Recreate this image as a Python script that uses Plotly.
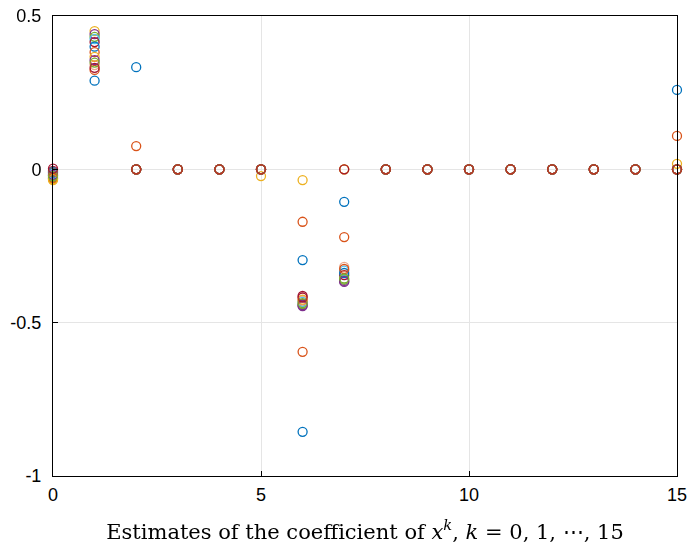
import plotly.graph_objects as go

k = list(range(16))

colors = ["#0072BD", "#D95319", "#EDB120", "#7E2F8E", "#77AC30", "#4DBEEE", "#A2142F",
          "#0072BD", "#D95319", "#EDB120", "#7E2F8E", "#77AC30", "#A2142F", "#D95319"]
opacities = [1, 1, 1, 1, 1, 1, 1, 1, 1, 1, 1, 1, 1, 0.5]

def row(c0, c1, c2=0, c5=0, c6=0, c7=0, c15=0):
    r = [0.0] * 16
    r[0], r[1], r[2], r[5], r[6], r[7], r[15] = c0, c1, c2, c5, c6, c7, c15
    return r

s1 = row(-0.012, 0.289, 0.333, 0, -0.296, -0.106, 0.259)
s2 = row(-0.030, 0.324, 0.076, 0, -0.171, -0.221, 0.109)
s3 = row(-0.035, 0.451, 0, -0.022, -0.035, 0, 0.018)
s4 = row(-0.020, 0.441, 0, 0, -0.446, -0.367, 0)
s5 = row(-0.025, 0.432, 0, 0, -0.440, -0.360, 0)
s6 = row(-0.015, 0.425, 0, 0, -0.432, -0.330, 0)
s7 = row(-0.005, 0.415, 0, 0, -0.413, -0.345, 0)
s8 = row(-0.008, 0.400, 0, 0, -0.856, -0.338, 0)
s9 = row(-0.028, 0.382, 0, 0, -0.595, -0.325, 0)
s10 = row(-0.032, 0.367, 0, 0, -0.425, 0, 0)
s11 = row(-0.018, 0.356, 0, 0, -0.443, -0.364, 0)
s12 = row(-0.022, 0.348, 0, 0, -0.436, -0.356, 0)
s13 = row(0.002, 0.331, 0, 0, -0.418, 0, 0)
s14 = row(-0.010, 0.340, 0, 0, -0.428, -0.318, 0)
series = [s1, s2, s3, s4, s5, s6, s7, s8, s9, s10, s11, s12, s13, s14]

ytickvals = [-1, -0.5, 0, 0.5]
yticktext = ["-1", "-0.5", "0", "0.5"]
xtickvals = [0, 5, 10, 15]
xticktext = ["0", "5", "10", "15"]

fig = go.Figure()
for s, c, o in zip(series, colors, opacities):
    fig.add_trace(go.Scatter(
        x=k, y=s, mode="markers", cliponaxis=False, showlegend=False, opacity=o,
        marker=dict(symbol="circle-open", size=9, color=c, line=dict(width=1.3, color=c)),
    ))

axis_common = dict(showline=True, mirror=True, linecolor="black", linewidth=1,
                   showgrid=True, gridcolor="#e5e5e5", gridwidth=1, zeroline=False,
                   ticks="inside", ticklen=5, tickcolor="black", automargin=False,
                   tickfont=dict(family="Liberation Sans, Arial, sans-serif", size=18, color="black"))

fig.update_xaxes(range=[0, 15], tickvals=xtickvals, ticktext=xticktext, ticklabelstandoff=2,
                 title=dict(text="Estimates of the coefficient of <i>x</i><sup><i>k</i></sup>, <i>k</i> = 0, 1, ⋯, 15",
                            font=dict(family="DejaVu Serif, serif", size=21, color="black"),
                            standoff=20),
                 **axis_common)
fig.update_yaxes(range=[-1, 0.5], tickvals=ytickvals, ticktext=yticktext, ticklabelstandoff=7,
                 **axis_common)

fig.update_layout(width=689, height=548, margin=dict(l=53, r=12, t=16, b=72),
                  plot_bgcolor="white", paper_bgcolor="white")

fig.write_html("out.html")
